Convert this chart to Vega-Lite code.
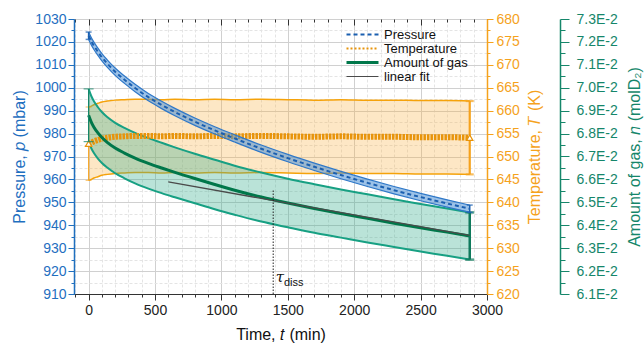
{
  "$schema": "https://vega.github.io/schema/vega-lite/v6.json",
  "width": 413,
  "height": 275,
  "autosize": "none",
  "padding": {"left": 74, "top": 19, "right": 157, "bottom": 51},
  "config": {
    "font": "Liberation Sans",
    "view": {"stroke": "#3a3a3a", "strokeWidth": 1},
    "axis": {"titleFontWeight": "normal", "labelFontSize": 14, "titleFontSize": 16, "labelOverlap": false, "labelFlush": false}
  },
  "datasets": {
    "main": [
      {"t": 0, "p": 1022.7, "pe": 1.6, "T": 652.8, "Te": 8, "n": 0.0688, "ne": 0.00115},
      {"t": 20, "p": 1020.3, "pe": 1.6, "T": 653.0, "Te": 8, "n": 0.0685, "ne": 0.00114},
      {"t": 40, "p": 1018.3, "pe": 1.6, "T": 653.3, "Te": 8, "n": 0.06828, "ne": 0.00113},
      {"t": 70, "p": 1015.7, "pe": 1.6, "T": 653.6, "Te": 8, "n": 0.06803, "ne": 0.00112},
      {"t": 100, "p": 1013.3, "pe": 1.6, "T": 653.9, "Te": 8, "n": 0.06783, "ne": 0.00111},
      {"t": 140, "p": 1010.6, "pe": 1.6, "T": 654.1, "Te": 8, "n": 0.06762, "ne": 0.0011},
      {"t": 200, "p": 1007.0, "pe": 1.6, "T": 654.3, "Te": 8, "n": 0.06737, "ne": 0.0011},
      {"t": 270, "p": 1003.5, "pe": 1.6, "T": 654.4, "Te": 8, "n": 0.06715, "ne": 0.0011},
      {"t": 350, "p": 999.9, "pe": 1.6, "T": 654.5, "Te": 8, "n": 0.06693, "ne": 0.0011},
      {"t": 450, "p": 995.9, "pe": 1.6, "T": 654.5, "Te": 8, "n": 0.0667, "ne": 0.0011},
      {"t": 550, "p": 992.5, "pe": 1.6, "T": 654.4, "Te": 8, "n": 0.0665, "ne": 0.0011},
      {"t": 650, "p": 989.4, "pe": 1.6, "T": 654.5, "Te": 8, "n": 0.06631, "ne": 0.00109},
      {"t": 800, "p": 985.2, "pe": 1.6, "T": 654.4, "Te": 8, "n": 0.06604, "ne": 0.00108},
      {"t": 950, "p": 981.4, "pe": 1.6, "T": 654.5, "Te": 8, "n": 0.06578, "ne": 0.00108},
      {"t": 1100, "p": 977.9, "pe": 1.6, "T": 654.4, "Te": 8, "n": 0.06553, "ne": 0.00107},
      {"t": 1300, "p": 973.4, "pe": 1.6, "T": 654.5, "Te": 8, "n": 0.06523, "ne": 0.00107},
      {"t": 1500, "p": 969.3, "pe": 1.6, "T": 654.4, "Te": 8, "n": 0.06497, "ne": 0.00106},
      {"t": 1700, "p": 965.5, "pe": 1.6, "T": 654.3, "Te": 8, "n": 0.06473, "ne": 0.00106},
      {"t": 1900, "p": 961.9, "pe": 1.6, "T": 654.4, "Te": 8, "n": 0.06451, "ne": 0.00105},
      {"t": 2100, "p": 958.5, "pe": 1.6, "T": 654.3, "Te": 8, "n": 0.0643, "ne": 0.00105},
      {"t": 2300, "p": 955.3, "pe": 1.6, "T": 654.3, "Te": 8, "n": 0.06409, "ne": 0.00104},
      {"t": 2500, "p": 952.3, "pe": 1.6, "T": 654.2, "Te": 8, "n": 0.06389, "ne": 0.00104},
      {"t": 2700, "p": 949.5, "pe": 1.6, "T": 654.2, "Te": 8, "n": 0.0637, "ne": 0.00103},
      {"t": 2870, "p": 947.2, "pe": 1.6, "T": 654.1, "Te": 8, "n": 0.06353, "ne": 0.00103}
    ],
    "fit": [
      {"t": 600, "n": 0.06589},
      {"t": 2870, "n": 0.06356}
    ],
    "tau": [
      {"t": 1390, "lo": 910, "hi": 955.4}
    ]
  },
  "resolve": {"scale": {"y": "independent"}},
  "layer": [
    {
      "data": {"name": "main"},
      "mark": {"type": "errorband", "interpolate": "monotone", "band": {"color": "#f8b040", "opacity": 0.3}, "borders": {"color": "#f5a20a", "strokeWidth": 1.5}},
      "encoding": {
        "x": {"field": "t", "type": "quantitative", "scale": {"domain": [-110, 3000], "nice": false, "zero": false}, "axis": null},
        "y": {"field": "T", "type": "quantitative", "scale": {"domain": [620, 680], "nice": false, "zero": false}, "axis": null},
        "yError": {"field": "Te"}
      }
    },
    {
      "data": {"name": "main"},
      "mark": {"type": "errorband", "interpolate": "monotone", "band": {"color": "#3aae90", "opacity": 0.35}, "borders": {"color": "#17a083", "strokeWidth": 2}},
      "encoding": {
        "x": {"field": "t", "type": "quantitative", "scale": {"domain": [-110, 3000], "nice": false, "zero": false}, "axis": null},
        "y": {"field": "n", "type": "quantitative", "scale": {"domain": [0.061, 0.073], "nice": false, "zero": false}, "axis": null},
        "yError": {"field": "ne"}
      }
    },
    {
      "data": {"name": "main"},
      "mark": {"type": "line", "interpolate": "monotone", "strokeWidth": 6, "strokeDash": [2.5, 1]},
      "encoding": {
        "x": {"field": "t", "type": "quantitative", "scale": {"domain": [-110, 3000], "nice": false, "zero": false}, "axis": null},
        "y": {
          "field": "T", "type": "quantitative",
          "scale": {"domain": [620, 680], "nice": false, "zero": false},
          "axis": {
            "orient": "right", "format": "d",
            "values": [620, 622.5, 625, 627.5, 630, 632.5, 635, 637.5, 640, 642.5, 645, 647.5, 650, 652.5, 655, 657.5, 660, 662.5, 665, 667.5, 670, 672.5, 675, 677.5, 680],
            "labelExpr": "datum.value % 5 === 0 ? datum.label : ''",
            "title": "Temperature, 𝑇 (K)", "titleAngle": 270, "titleBaseline": "top", "titlePadding": 7,
            "titleColor": "#f5a21c", "labelColor": "#f5a21c", "domainColor": "#f5a21c", "domainWidth": 1.5, "tickColor": "#f5a21c",
            "tickSize": {"condition": {"test": "datum.value % 5 === 0", "value": 6}, "value": 3},
            "labelPadding": 3, "grid": false
          }
        },
        "color": {
          "datum": "Temperature",
          "scale": {"domain": ["Pressure", "Temperature", "Amount of gas", "linear fit"], "range": ["#1a5fb0", "#e8940a", "#00774a", "#4a4a4a"]},
          "legend": {
            "orient": "none", "legendX": 282, "legendY": 9, "title": null,
            "symbolType": "M-2,0H2", "symbolSize": 256, "labelFontSize": 13, "labelOffset": 15,
            "rowPadding": 0, "padding": 0, "labelColor": "#111",
            "encode": {"symbols": {"update": {
              "strokeDash": {"signal": "datum.value === 'Pressure' ? [4,3] : datum.value === 'Temperature' ? [2,2] : [1,0]"},
              "strokeWidth": {"signal": "datum.value === 'Amount of gas' ? 3 : datum.value === 'linear fit' ? 1.2 : 2"}
            }}}
          }
        }
      }
    },
    {
      "data": {"name": "main"},
      "transform": [{"filter": "datum.t === 0"}],
      "mark": {"type": "errorbar", "ticks": true, "size": 6, "thickness": 1, "color": "#f5a21c"},
      "encoding": {
        "x": {"field": "t", "type": "quantitative", "scale": {"domain": [-110, 3000], "nice": false, "zero": false}, "axis": null},
        "y": {"field": "T", "type": "quantitative", "scale": {"domain": [620, 680], "nice": false, "zero": false}, "axis": null},
        "yError": {"field": "Te"}
      }
    },
    {
      "data": {"name": "main"},
      "transform": [{"filter": "datum.t === 2870"}],
      "mark": {"type": "errorbar", "ticks": true, "size": 8, "thickness": 2.2, "color": "#f5a21c"},
      "encoding": {
        "x": {"field": "t", "type": "quantitative", "scale": {"domain": [-110, 3000], "nice": false, "zero": false}, "axis": null},
        "y": {"field": "T", "type": "quantitative", "scale": {"domain": [620, 680], "nice": false, "zero": false}, "axis": null},
        "yError": {"field": "Te"}
      }
    },
    {
      "data": {"name": "main"},
      "transform": [{"filter": "datum.t === 0 || datum.t === 2870"}],
      "mark": {"type": "point", "shape": "triangle-up", "filled": true, "fill": "white", "stroke": "#e8940a", "strokeWidth": 1.2, "size": 40, "opacity": 1},
      "encoding": {
        "x": {"field": "t", "type": "quantitative", "scale": {"domain": [-110, 3000], "nice": false, "zero": false}, "axis": null},
        "y": {"field": "T", "type": "quantitative", "scale": {"domain": [620, 680], "nice": false, "zero": false}, "axis": null}
      }
    },
    {
      "data": {"name": "main"},
      "mark": {"type": "line", "interpolate": "monotone", "strokeWidth": 3},
      "encoding": {
        "x": {"field": "t", "type": "quantitative", "scale": {"domain": [-110, 3000], "nice": false, "zero": false}, "axis": null},
        "y": {
          "field": "n", "type": "quantitative",
          "scale": {"domain": [0.061, 0.073], "nice": false, "zero": false},
          "axis": {
            "orient": "right", "offset": 73,
            "values": [0.061, 0.0615, 0.062, 0.0625, 0.063, 0.0635, 0.064, 0.0645, 0.065, 0.0655, 0.066, 0.0665, 0.067, 0.0675, 0.068, 0.0685, 0.069, 0.0695, 0.07, 0.0705, 0.071, 0.0715, 0.072, 0.0725, 0.073],
            "labelExpr": "round(datum.value * 20000) % 20 === 0 ? format(datum.value * 100, '.1f') + 'E-2' : ''",
            "title": "Amount of gas, 𝑛 (molD₂)", "titleAngle": 270, "titleBaseline": "top", "titlePadding": 9,
            "titleColor": "#15866a", "labelColor": "#15866a", "domainColor": "#15866a", "domainWidth": 1.5, "tickColor": "#15866a",
            "tickSize": {"condition": {"test": "round(datum.value * 20000) % 20 === 0", "value": 9}, "value": 5},
            "labelPadding": 7, "grid": false
          }
        },
        "color": {"datum": "Amount of gas", "legend": null}
      }
    },
    {
      "data": {"name": "main"},
      "transform": [{"filter": "datum.t === 0"}],
      "mark": {"type": "errorbar", "ticks": true, "size": 10, "thickness": 1.2, "color": "#15866a"},
      "encoding": {
        "x": {"field": "t", "type": "quantitative", "scale": {"domain": [-110, 3000], "nice": false, "zero": false}, "axis": null},
        "y": {"field": "n", "type": "quantitative", "scale": {"domain": [0.061, 0.073], "nice": false, "zero": false}, "axis": null},
        "yError": {"field": "ne"}
      }
    },
    {
      "data": {"name": "main"},
      "transform": [{"filter": "datum.t === 2870"}],
      "mark": {"type": "errorbar", "ticks": true, "size": 9, "thickness": 2.5, "color": "#0f7a5c"},
      "encoding": {
        "x": {"field": "t", "type": "quantitative", "scale": {"domain": [-110, 3000], "nice": false, "zero": false}, "axis": null},
        "y": {"field": "n", "type": "quantitative", "scale": {"domain": [0.061, 0.073], "nice": false, "zero": false}, "axis": null},
        "yError": {"field": "ne"}
      }
    },
    {
      "data": {"name": "main"},
      "mark": {"type": "errorband", "interpolate": "monotone", "band": {"color": "#4a8fd6", "opacity": 0.55}, "borders": {"color": "#2f78c8", "strokeWidth": 1.2}},
      "encoding": {
        "x": {"field": "t", "type": "quantitative", "scale": {"domain": [-110, 3000], "nice": false, "zero": false}, "axis": null},
        "y": {"field": "p", "type": "quantitative", "scale": {"domain": [910, 1030], "nice": false, "zero": false}, "axis": null},
        "yError": {"field": "pe"}
      }
    },
    {
      "data": {"name": "main"},
      "mark": {"type": "line", "interpolate": "monotone", "strokeWidth": 2, "strokeDash": [4, 3]},
      "encoding": {
        "x": {
          "field": "t", "type": "quantitative",
          "scale": {"domain": [-110, 3000], "nice": false, "zero": false},
          "axis": {
            "orient": "bottom", "format": "d",
            "values": [-100, 0, 100, 200, 300, 400, 500, 600, 700, 800, 900, 1000, 1100, 1200, 1300, 1400, 1500, 1600, 1700, 1800, 1900, 2000, 2100, 2200, 2300, 2400, 2500, 2600, 2700, 2800, 2900, 3000],
            "labelExpr": "datum.value % 500 === 0 ? datum.label : ''",
            "title": "Time, 𝑡 (min)", "titleColor": "#111", "titlePadding": 9,
            "labelColor": "#222", "domainColor": "#333", "tickColor": "#333", "labelPadding": 3,
            "tickSize": {"condition": {"test": "datum.value % 500 === 0", "value": 6}, "value": 3},
            "grid": true,
            "gridColor": {"condition": {"test": "datum.value % 500 === 0", "value": "#d0d0d0"}, "value": "#e4e4e4"},
            "gridDash": {"condition": {"test": "datum.value % 500 === 0", "value": []}, "value": [3, 2]}
          }
        },
        "y": {
          "field": "p", "type": "quantitative",
          "scale": {"domain": [910, 1030], "nice": false, "zero": false},
          "axis": {
            "orient": "left", "format": "d",
            "values": [910, 915, 920, 925, 930, 935, 940, 945, 950, 955, 960, 965, 970, 975, 980, 985, 990, 995, 1000, 1005, 1010, 1015, 1020, 1025, 1030],
            "labelExpr": "datum.value % 10 === 0 ? datum.label : ''",
            "title": "Pressure, 𝑝 (mbar)", "titlePadding": 7,
            "titleColor": "#1f6fbf", "labelColor": "#1f6fbf", "domainColor": "#1f6fbf", "domainWidth": 1.5, "tickColor": "#1f6fbf",
            "tickSize": {"condition": {"test": "datum.value % 10 === 0", "value": 6}, "value": 3},
            "labelPadding": 2,
            "grid": true,
            "gridColor": {"condition": {"test": "datum.value % 10 === 0", "value": "#d0d0d0"}, "value": "#e4e4e4"},
            "gridDash": {"condition": {"test": "datum.value % 10 === 0", "value": []}, "value": [3, 2]}
          }
        },
        "color": {"datum": "Pressure", "legend": null}
      }
    },
    {
      "data": {"name": "main"},
      "transform": [{"filter": "datum.t === 0 || datum.t === 2870"}],
      "mark": {"type": "errorbar", "ticks": true, "size": 6, "thickness": 1.5, "color": "#1a5fb0"},
      "encoding": {
        "x": {"field": "t", "type": "quantitative", "scale": {"domain": [-110, 3000], "nice": false, "zero": false}, "axis": null},
        "y": {"field": "p", "type": "quantitative", "scale": {"domain": [910, 1030], "nice": false, "zero": false}, "axis": null},
        "yError": {"field": "pe"}
      }
    },
    {
      "data": {"name": "fit"},
      "mark": {"type": "line", "strokeWidth": 1.3},
      "encoding": {
        "x": {"field": "t", "type": "quantitative", "scale": {"domain": [-110, 3000], "nice": false, "zero": false}, "axis": null},
        "y": {"field": "n", "type": "quantitative", "scale": {"domain": [0.061, 0.073], "nice": false, "zero": false}, "axis": null},
        "color": {"datum": "linear fit", "legend": null}
      }
    },
    {
      "data": {"name": "tau"},
      "mark": {"type": "rule", "color": "#222", "strokeWidth": 1, "strokeDash": [1.5, 1.5]},
      "encoding": {
        "x": {
          "field": "t", "type": "quantitative",
          "scale": {"domain": [-110, 3000], "nice": false, "zero": false},
          "axis": {
            "orient": "top",
            "values": [-100, 0, 100, 200, 300, 400, 500, 600, 700, 800, 900, 1000, 1100, 1200, 1300, 1400, 1500, 1600, 1700, 1800, 1900, 2000, 2100, 2200, 2300, 2400, 2500, 2600, 2700, 2800, 2900, 3000],
            "labels": false, "title": null, "grid": false, "domain": false, "tickColor": "#333",
            "tickSize": {"condition": {"test": "datum.value % 500 === 0", "value": -6}, "value": -3}
          }
        },
        "y": {"field": "lo", "type": "quantitative", "scale": {"domain": [910, 1030], "nice": false, "zero": false}, "axis": null},
        "y2": {"field": "hi"}
      }
    },
    {
      "data": {"values": [{"t": 1440, "p": 917.4, "s": "τ"}]},
      "mark": {"type": "text", "fontSize": 15, "fontStyle": "italic", "color": "#111", "font": "DejaVu Serif"},
      "encoding": {
        "x": {"field": "t", "type": "quantitative", "scale": {"domain": [-110, 3000], "nice": false, "zero": false}, "axis": null},
        "y": {"field": "p", "type": "quantitative", "scale": {"domain": [910, 1030], "nice": false, "zero": false}, "axis": null},
        "text": {"field": "s"}
      }
    },
    {
      "data": {"values": [{"t": 1545, "p": 914.6, "s": "diss"}]},
      "mark": {"type": "text", "fontSize": 11, "color": "#111"},
      "encoding": {
        "x": {"field": "t", "type": "quantitative", "scale": {"domain": [-110, 3000], "nice": false, "zero": false}, "axis": null},
        "y": {"field": "p", "type": "quantitative", "scale": {"domain": [910, 1030], "nice": false, "zero": false}, "axis": null},
        "text": {"field": "s"}
      }
    }
  ]
}
